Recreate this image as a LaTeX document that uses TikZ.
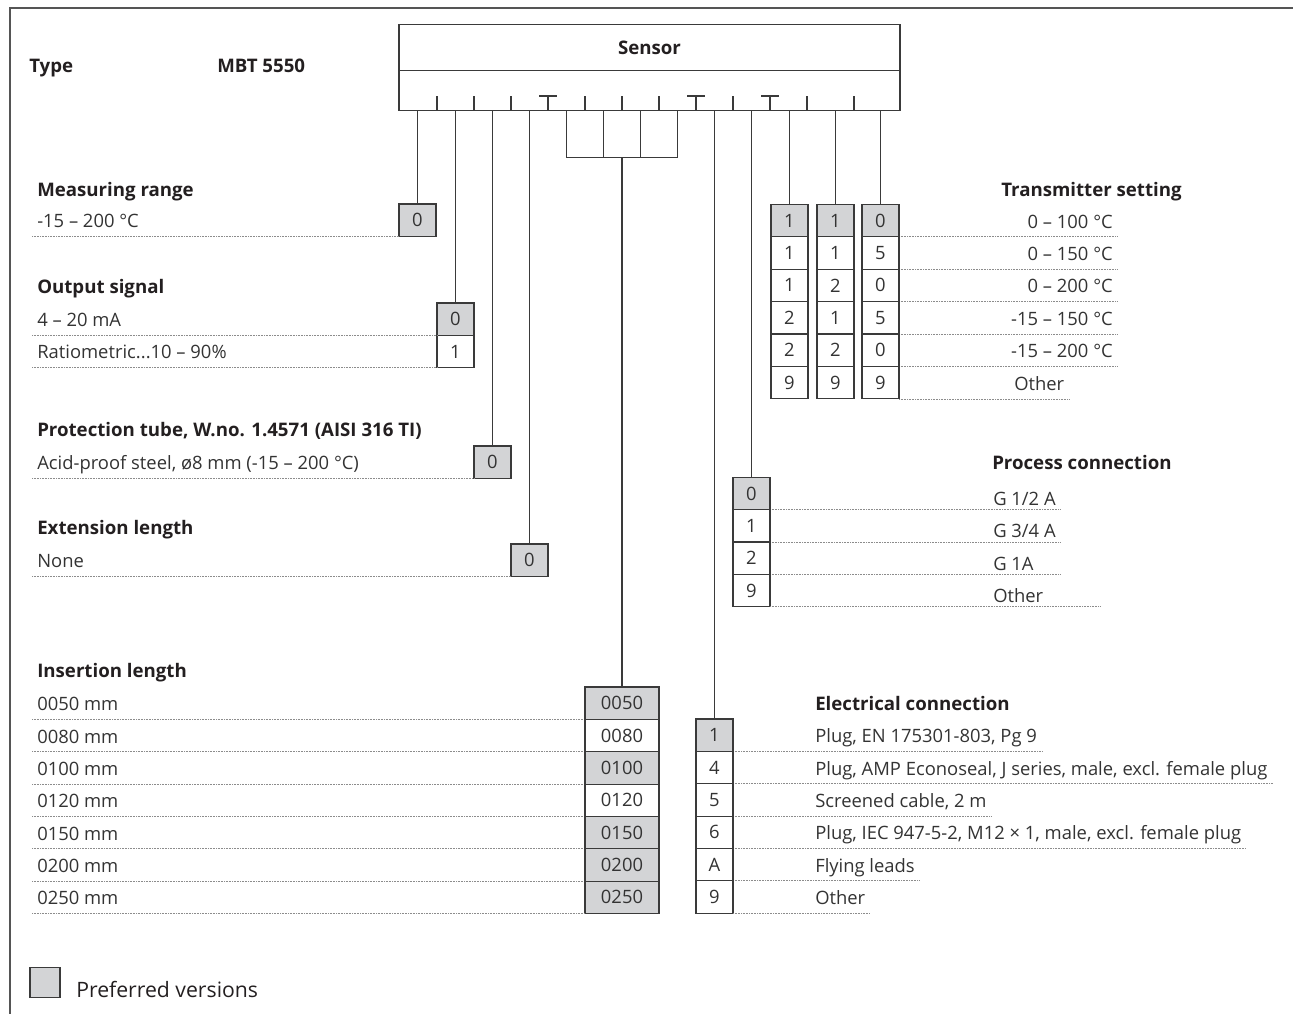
\documentclass[tikz,border=0pt]{standalone}
\usepackage{fontspec}
\setmainfont{Open Sans}
\usetikzlibrary{positioning,calc}
\definecolor{ink}{HTML}{231F20}
\definecolor{valink}{HTML}{333333}
\definecolor{wire}{HTML}{3A3A3A}
\definecolor{pref}{HTML}{D3D4D6}
\definecolor{dots}{HTML}{8C8C8C}
\definecolor{frameGrey}{HTML}{555555}
\newcommand{\hfont}{\fontsize{14}{17}\selectfont\bfseries}
\newcommand{\vfont}{\fontsize{13.8}{16}\selectfont}

\begin{document}
\begin{tikzpicture}[
  x=0.75pt, y=-0.75pt,
  cell/.style={draw=wire, line width=0.8pt, fill=white, minimum width=27.75pt, minimum height=24.26pt,
               inner sep=0pt, outer sep=0pt, anchor=north west, text=valink, font=\vfont},
  widecell/.style={minimum width=55.5pt},
  head/.style={anchor=west, inner xsep=3.75pt, inner ysep=0pt, text height=10pt, text depth=0pt,
               text=ink, font=\hfont},
  item/.style={anchor=west, inner xsep=3.75pt, inner ysep=0pt, text height=9.85pt, text depth=0pt,
               text=valink, font=\vfont},
  rule/.style={draw=dots, line width=0.6pt, dash pattern=on 0.7pt off 0.5pt},
  lead/.style={draw=wire, line width=0.8pt},
  block/.style={draw=wire, line width=0.8pt, inner sep=0pt, outer sep=0pt, minimum width=375.75pt}
]

\useasboundingbox (0,0) rectangle (1293,1014);
\draw[frameGrey, line width=1.6pt] (10,1014) -- (10,8) -- (1293,8);

\node[head] (type) at (24,66) {Type};
\node[head] (model) at (212,66) {MBT 5550};

\node[block, minimum height=34.5pt, anchor=north west, text=ink, font=\hfont] (sensor) at (399,24.7) {Sensor};
\node[block, minimum height=29.5pt, below=0pt of sensor] (sensorbot) {};
\foreach \x in {437,474,511,585,622,659,733,807,854}
  \draw[lead] (\x,96) -- (\x,110);
\foreach \x in {548,696,770}
  \draw[lead] (\x-9,96) -- (\x+9,96) (\x,96) -- (\x,110);

\node[head] (mrh) at (32,190) {Measuring range};
\node[cell, fill=pref] (mr1) at (399,204) {0};
\node[item] (mrl1) at (32,221) {-15 -- 200 °C};
\draw[rule] (mrl1.west |- mr1.south) -- (mr1.south west);

\node[head] (osh) at (32,287) {Output signal};
\node[cell, fill=pref] (os1) at (437,303) {0};
\node[cell, below=0pt of os1] (os2) {1};
\node[item] (osl1) at (32,320) {4 -- 20 mA};
\node[item] (osl2) at (32,352.4) {Ratiometric...10 -- 90\%};
\draw[rule] (osl1.west |- os1.south) -- (os1.south west);
\draw[rule] (osl2.west |- os2.south) -- (os2.south west);

\node[head] (pth) at (32,430) {Protection tube, W.no. 1.4571 (AISI 316 TI)};
\node[cell, fill=pref] (pt1) at (474,446) {0};
\node[item] (ptl1) at (32,463) {Acid-proof steel, ø8 mm (-15 -- 200 °C)};
\draw[rule] (ptl1.west |- pt1.south) -- (pt1.south west);

\node[head] (exh) at (32,528) {Extension length};
\node[cell, fill=pref] (ex1) at (511,544) {0};
\node[item] (exl1) at (32,561) {None};
\draw[rule] (exl1.west |- ex1.south) -- (ex1.south west);

\node[head] (inh) at (32,671) {Insertion length};
\foreach \v/\f [count=\i] in {0050/pref,0080/white,0100/pref,0120/white,0150/pref,0200/pref,0250/pref} {
  \node[cell, widecell, fill=\f] (in\i) at (585,{687+32.35*(\i-1)}) {\v};
  \node[item] (inl\i) at (32,{704.2+32.35*(\i-1)}) {\v\ mm};
  \draw[rule] (inl\i.west |- in\i.south) -- (in\i.south west);
}

\node[head] (ech) at (810,704) {Electrical connection};
\foreach \v/\f/\t [count=\i] in {1/pref/{Plug, EN 175301-803, Pg 9},
    4/white/{Plug, AMP Econoseal, J series, male, excl. female plug},
    5/white/{Screened cable, 2 m},
    6/white/{Plug, IEC 947-5-2, M12 × 1, male, excl. female plug},
    A/white/{Flying leads}, 9/white/{Other}} {
  \node[cell, fill=\f] (ec\i) at (696,{719+32.35*(\i-1)}) {\v};
  \node[item] (ecl\i) at (810,{736.2+32.35*(\i-1)}) {\t};
  \draw[rule] (ec\i.south east) -- (ecl\i.east |- ec\i.south);
}

\node[head] (pch) at (987,463) {Process connection};
\foreach \v/\f/\t/\e [count=\i] in {0/pref/{G 1/2 A}/1060, 1/white/{G 3/4 A}/1060,
    2/white/{G 1A}/1060, 9/white/{Other}/1100} {
  \node[cell, fill=\f] (pc\i) at (733,{477.3+32.35*(\i-1)}) {\v};
  \node[item] (pcl\i) at (988,{498.8+32.35*(\i-1)}) {\t};
  \draw[rule] (pc\i.south east) -- (\e,0 |- pc\i.south);
}

\node[head] (tsh) at (996,190) {Transmitter setting};
\foreach \f/\a/\b/\c/\an/\xx/\t [count=\i] in {pref/1/1/0/east/1118/{0 -- 100 °C},
    white/1/1/5/east/1118/{0 -- 150 °C}, white/1/2/0/east/1118/{0 -- 200 °C},
    white/2/1/5/east/1118/{-15 -- 150 °C}, white/2/2/0/east/1118/{-15 -- 200 °C},
    white/9/9/9/west/1009/{Other}} {
  \node[cell, fill=\f] (tsa\i) at (771,{204.3+32.45*(\i-1)}) {\a};
  \node[cell, fill=\f] (tsb\i) at (817,{204.3+32.45*(\i-1)}) {\b};
  \node[cell, fill=\f] (tsc\i) at (862,{204.3+32.45*(\i-1)}) {\c};
  \node[item, anchor=\an] (tsl\i) at (\xx,{221.5+32.45*(\i-1)}) {\t};
  \draw[rule] (tsc\i.south east) -- (tsl\i.east |- tsc\i.south);
}

\foreach \b in {mr1,os1,pt1,ex1,ec1,pc1,tsa1,tsb1,tsc1}
  \draw[lead] (\b.north |- sensorbot.south) -- (\b.north);

\node[draw=wire, line width=0.8pt, minimum width=83.25pt, minimum height=35.8pt, inner sep=0pt,
      outer sep=0pt, anchor=north] (brk) at (sensorbot.south -| in1.north) {};
\draw[lead] ($(brk.north west)!1/3!(brk.north east)$) -- ($(brk.south west)!1/3!(brk.south east)$);
\draw[lead] ($(brk.north west)!2/3!(brk.north east)$) -- ($(brk.south west)!2/3!(brk.south east)$);
\draw[lead] (brk.south) -- (in1.north);

\node[cell, fill=pref, minimum width=22.5pt, minimum height=22.5pt] (legbox) at (30,967.3) {};
\node[anchor=base west, inner sep=0pt, text=ink, font=\fontsize{15.9}{19}\selectfont] (legtxt)
  at ([xshift=12pt]legbox.south east) {Preferred versions};

\end{tikzpicture}
\end{document}
